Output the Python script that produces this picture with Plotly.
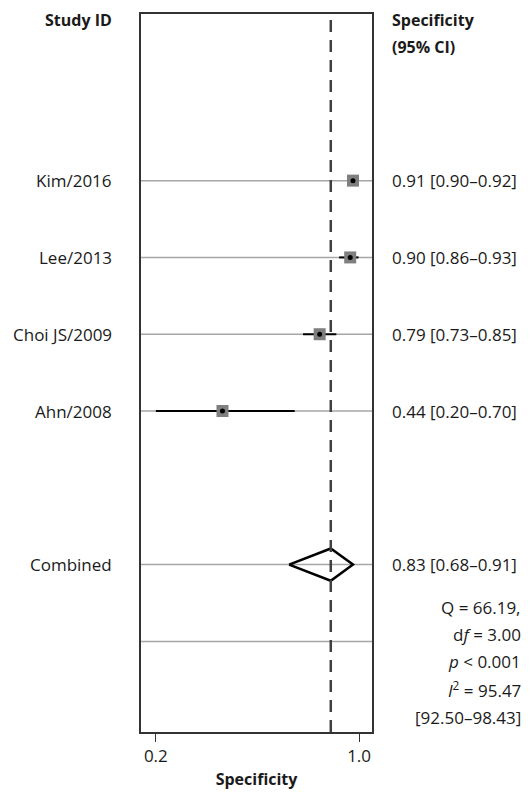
import plotly.graph_objects as go

# ---- data ----
studies = ["Kim/2016", "Lee/2013", "Choi JS/2009", "Ahn/2008"]
spec = [0.91, 0.90, 0.79, 0.44]
spec_lo = [0.90, 0.86, 0.73, 0.20]
spec_hi = [0.92, 0.93, 0.85, 0.70]
comb_label = "Combined"
comb_est = 0.83
comb_lo = 0.68
comb_hi = 0.91
stats_lines = ["Q = 66.19,", "d<i>f</i> = 3.00", "<i>p</i> < 0.001",
               "<i>I</i><sup>2</sup> = 95.47", "[92.50–98.43]"]
tick_vals = [0.2, 0.932]
tick_text = ["0.2", "1.0"]

FONT = "Open Sans"
FS = 17
FSB = 16
TXT = "#1a1a1a"

study_rows = [1, 2, 3, 4]
comb_row = 6
blank_row = 7
all_rows = study_rows + [comb_row, blank_row]

def fmt(e, l, h):
    return f"{e:.2f} [{l:.2f}–{h:.2f}]"

fig = go.Figure()

# gray row lines
for r in all_rows:
    fig.add_shape(type="line", xref="paper", x0=0, x1=1, yref="y", y0=r, y1=r,
                  line=dict(color="#a6a6a6", width=1.5), layer="below")

# dashed reference line at combined estimate
fig.add_shape(type="line", xref="x", x0=comb_est, x1=comb_est, yref="paper", y0=0, y1=1,
              line=dict(color="#404040", width=2.5, dash="12px,8px"), layer="above")

# CI lines
cx, cy = [], []
for r, l, h in zip(study_rows, spec_lo, spec_hi):
    cx += [l, h, None]
    cy += [r, r, None]
fig.add_trace(go.Scatter(x=cx, y=cy, mode="lines", line=dict(color="black", width=2),
                         hoverinfo="skip", showlegend=False))
# squares
fig.add_trace(go.Scatter(x=spec, y=study_rows, mode="markers",
                         marker=dict(symbol="square", size=12, color="#7f7f7f",
                                     line=dict(width=0)),
                         showlegend=False))
# dots
fig.add_trace(go.Scatter(x=spec, y=study_rows, mode="markers",
                         marker=dict(symbol="circle", size=5, color="black"),
                         showlegend=False))
# diamond
h = 0.21
fig.add_trace(go.Scatter(x=[comb_lo, comb_est, comb_hi, comb_est, comb_lo],
                         y=[comb_row, comb_row - h, comb_row, comb_row + h, comb_row],
                         mode="lines", line=dict(color="black", width=2.5),
                         showlegend=False))

LX = (114 - 141) / 231
RX = (390 - 141) / 231

# left labels
for r, s in zip(study_rows + [comb_row], studies + [comb_label]):
    fig.add_annotation(text=s, xref="paper", x=LX, xanchor="right",
                       yref="y", y=r, yanchor="middle", showarrow=False,
                       font=dict(family=FONT, size=FS, color=TXT))
# right labels
for r, e, l, hh in zip(study_rows + [comb_row], spec + [comb_est],
                       spec_lo + [comb_lo], spec_hi + [comb_hi]):
    fig.add_annotation(text=fmt(e, l, hh), xref="paper", x=RX, xanchor="left",
                       yref="y", y=r, yanchor="middle", showarrow=False,
                       font=dict(family=FONT, size=FS, color=TXT))

# headers
fig.add_annotation(text="<b>Study ID</b>", xref="paper", x=LX, xanchor="right",
                   yref="paper", y=(735 - 18) / 723, yanchor="middle", showarrow=False,
                   font=dict(family=FONT, size=FSB, color=TXT))
fig.add_annotation(text="<b>Specificity</b>", xref="paper", x=RX, xanchor="left",
                   yref="paper", y=(735 - 18) / 723, yanchor="middle", showarrow=False,
                   font=dict(family=FONT, size=FSB, color=TXT))
fig.add_annotation(text="<b>(95% CI)</b>", xref="paper", x=RX, xanchor="left",
                   yref="paper", y=(735 - 45) / 723, yanchor="middle", showarrow=False,
                   font=dict(family=FONT, size=FSB, color=TXT))

# stats
stat_px = [610, 637, 664, 692, 720]
for ypx, t in zip(stat_px, stats_lines):
    fig.add_annotation(text=t, xref="paper", x=(523 - 141) / 231, xanchor="right",
                       yref="paper", y=(735 - ypx) / 723, yanchor="middle", showarrow=False,
                       align="right", font=dict(family=FONT, size=FS, color=TXT))

fig.update_layout(
    width=530, height=798,
    margin=dict(l=141, r=158, t=12, b=63),
    paper_bgcolor="white", plot_bgcolor="white",
    showlegend=False,
    font=dict(family=FONT, size=FS, color=TXT),
    xaxis=dict(range=[0.1465, 0.9785], showgrid=False, zeroline=False,
               showline=True, mirror=True, linecolor="#333", linewidth=1.5,
               ticks="outside", ticklen=8, tickcolor="#333", tickwidth=1.2,
               tickvals=tick_vals, ticktext=tick_text,
               tickfont=dict(family=FONT, size=FS, color=TXT),
               title=dict(text="<b>Specificity</b>", standoff=8,
                          font=dict(family=FONT, size=FSB, color=TXT))),
    yaxis=dict(range=[8.18, -1.17], showgrid=False, zeroline=False,
               showline=True, mirror=True, linecolor="#333", linewidth=1.5,
               showticklabels=False, ticks=""),
)

fig.write_html("out.html")
